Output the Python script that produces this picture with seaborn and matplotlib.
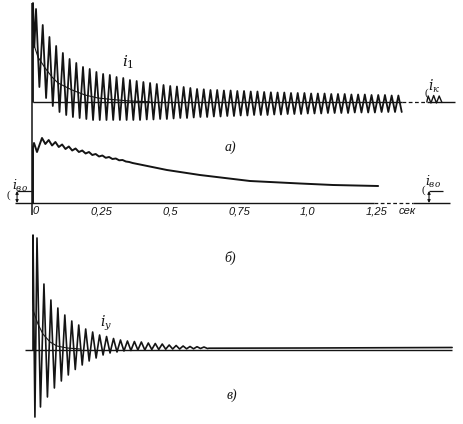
import matplotlib
matplotlib.use("Agg")
import matplotlib.pyplot as plt
import pandas as pd
import seaborn as sns

# time in seconds, currents in oscillogram units (zero line = 0)

# a) stator current i1
A_SPIKE = [9.9, 5.5]          # first peak at switching and the dip after it
A_FIRST_TOP_T = 0.011
A_PERIOD = 0.0244
A_TOPS = [9.3, 7.7, 6.5, 5.6, 4.9, 4.3, 3.9, 3.5, 3.3, 3.0,
          2.8, 2.7, 2.5, 2.4, 2.2, 2.1, 2.0, 1.9, 1.8, 1.7,
          1.6, 1.55, 1.5, 1.4, 1.3, 1.27, 1.2, 1.2, 1.15, 1.15,
          1.1, 1.1, 1.05, 1.05, 1.0, 0.97, 0.95, 0.95, 0.9, 0.9,
          0.9, 0.85, 0.85, 0.85, 0.8, 0.8, 0.8, 0.75, 0.75, 0.75,
          0.7, 0.7, 0.7, 0.65, 0.65]
A_TROUGHS = [1.5, 0.4, -0.4, -1.0, -1.3, -1.5, -1.6, -1.7, -1.8, -1.8,
             -1.8, -1.8, -1.8, -1.8, -1.8, -1.8, -1.75, -1.75, -1.7, -1.7,
             -1.65, -1.6, -1.6, -1.55, -1.5, -1.5, -1.45, -1.45, -1.4, -1.4,
             -1.35, -1.35, -1.3, -1.3, -1.3, -1.25, -1.25, -1.2, -1.2, -1.2,
             -1.15, -1.15, -1.15, -1.1, -1.1, -1.1, -1.1, -1.05, -1.05, -1.05,
             -1.05, -1.0, -1.0, -1.0, -1.0]
A_DC_T = [0, 0.018, 0.044, 0.069, 0.091, 0.142, 0.189, 0.236, 0.287, 0.353, 0.425]
A_DC_V = [6.0, 4.5, 3.4, 2.5, 1.9, 1.2, 0.7, 0.4, 0.25, 0.1, 0.02]
A_ZERO = [0.0, 1.342, 1.432, 1.535]   # solid / dashed / solid
IK_START_T = 1.432
IK_PERIOD = 0.02
IK_TOPS = [0.6, 0.65, 0.6]
IK_TROUGHS = [-0.1, -0.1, -0.05]

# b) field current
B_HEAD_T = [0, 0, 0.0036, 0.0145]
B_HEAD_V = [0, 5.6, 6.0, 5.1]
B_FIRST_TOP_T = 0.0327
B_TOPS = [6.5, 6.3, 6.1, 5.85, 5.65, 5.45, 5.25, 5.1, 4.9, 4.75, 4.6, 4.45, 4.3, 4.1]
B_TROUGHS = [5.9, 5.75, 5.6, 5.4, 5.25, 5.1, 4.95, 4.8, 4.65, 4.52, 4.4, 4.27, 4.15, 4.0]
B_TAIL_T = [0.389, 0.487, 0.607, 0.789, 0.971, 1.091, 1.255]
B_TAIL_V = [3.85, 3.3, 2.8, 2.2, 1.95, 1.8, 1.7]
B_ZERO = [-0.065, 1.24, 1.38, 1.515]
B_LEVEL = 1.2                     # i_в0
B_LEVEL_LEFT = [-0.058, 0.0]
B_LEVEL_RIGHT = [1.44, 1.49]
TICKS = [0, 0.25, 0.5, 0.75, 1.0, 1.25]
TICK_LABELS = ["0", "0,25", "0,5", "0,75", "1,0", "1,25"]

# c) damper current iy
C_SPIKE = [11.5, -6.7]
C_FIRST_TOP_T = 0.0145
C_PERIOD = 0.0253
C_TOPS = [11.2, 6.6, 5.0, 4.2, 3.5, 2.9, 2.5, 2.1, 1.8, 1.5,
          1.35, 1.15, 1.0, 0.9, 0.85, 0.8, 0.7, 0.65, 0.6, 0.5,
          0.45, 0.4, 0.35, 0.33, 0.3]
C_TROUGHS = [-5.7, -4.7, -3.8, -3.1, -2.5, -1.95, -1.5, -1.1, -0.8, -0.5,
             -0.3, -0.2, -0.1, -0.05, 0.0, 0.0, 0.05, 0.05, 0.08, 0.1,
             0.1, 0.12, 0.12, 0.15, 0.15]
C_DC_T = [0, 0.018, 0.036, 0.062, 0.087, 0.124, 0.171]
C_DC_V = [4.0, 2.6, 1.6, 0.8, 0.4, 0.2, 0.1]
C_TAIL_T = [0.64, 1.0, 1.524]
C_TAIL_V = [0.18, 0.2, 0.25]
C_ZERO = [-0.029, 1.524]


def zigzag(t0, period, tops, troughs):
    t, v = [], []
    for k, (hi, lo) in enumerate(zip(tops, troughs)):
        t += [t0 + k * period, t0 + (k + 0.5) * period]
        v += [hi, lo]
    return t, v


def trace(ax, t, v, lw=1.2, color="#141414"):
    df = pd.DataFrame({"t": t, "v": v})
    sns.lineplot(data=df, x="t", y="v", ax=ax, estimator=None, sort=False,
                 color=color, linewidth=lw)
    ax.set_xlabel("")
    ax.set_ylabel("")


sns.set_style("white")
plt.rcParams["font.family"] = ["Liberation Serif", "DejaVu Serif"]
plt.rcParams["mathtext.fontset"] = "dejavuserif"
ink = "#141414"
XLIM = (-0.12, 1.5636)

fig = plt.figure(figsize=(4.63, 4.24), dpi=100)
ax_a = fig.add_axes([0, 0.7052, 1, 0.2948])
ax_b = fig.add_axes([0, 0.4764, 1, 0.2288])
ax_c = fig.add_axes([0, 0.0, 1, 0.4764])
for ax, yl in [(ax_a, (-2.3, 10.2)), (ax_b, (-1.9, 7.8)), (ax_c, (-7.4, 12.8))]:
    ax.set_xlim(*XLIM)
    ax.set_ylim(*yl)
    ax.patch.set_alpha(0)
    for s in ax.spines.values():
        s.set_visible(False)
    ax.set_yticks([])

# ---- a)
t, v = zigzag(A_FIRST_TOP_T, A_PERIOD, A_TOPS, A_TROUGHS)
trace(ax_a, [0, 0, 0.005] + t, [0, A_SPIKE[0], A_SPIKE[1]] + v, lw=1.3)
trace(ax_a, A_DC_T, A_DC_V, lw=0.8)
t, v = zigzag(IK_START_T + IK_PERIOD * 0.25, IK_PERIOD, IK_TOPS, IK_TROUGHS)
trace(ax_a, [IK_START_T] + t, [0] + v, lw=1.0)
ax_a.hlines(0, A_ZERO[0], A_ZERO[1], color=ink, lw=1.0)
ax_a.plot(A_ZERO[1:3], [0, 0], color=ink, lw=0.9, ls=(0, (3, 2)))
ax_a.hlines(0, A_ZERO[2], A_ZERO[3], color=ink, lw=1.0)
ax_a.vlines(-0.002, -2.3, 9.9, color=ink, lw=1.1)
ax_a.set_xticks([])
ax_a.text(0.345, 4.0, r"$i_1$", fontsize=11, color=ink, ha="center", va="center")
ax_a.text(1.46, 1.6, r"$i_к$", fontsize=10, color=ink, ha="center", va="center")
ax_a.text(1.432, 0.9, "(", fontsize=8, color=ink, ha="center", va="center")

# ---- b)
t, v = zigzag(B_FIRST_TOP_T, A_PERIOD, B_TOPS, B_TROUGHS)
trace(ax_b, B_HEAD_T + t + B_TAIL_T, B_HEAD_V + v + B_TAIL_V, lw=1.4)
ax_b.hlines(0, B_ZERO[0], B_ZERO[1], color=ink, lw=1.0)
ax_b.plot(B_ZERO[1:3], [0, 0], color=ink, lw=0.9, ls=(0, (3, 2)))
ax_b.hlines(0, B_ZERO[2], B_ZERO[3], color=ink, lw=1.0)
ax_b.vlines(-0.002, -1.2, 7.8, color=ink, lw=1.1)
for seg in (B_LEVEL_LEFT, B_LEVEL_RIGHT):
    ax_b.hlines(B_LEVEL, seg[0], seg[1], color=ink, lw=0.9)
    ax_b.annotate("", xy=(seg[0], B_LEVEL), xytext=(seg[0], 0),
                  arrowprops=dict(arrowstyle="<|-|>", color=ink, lw=0.8,
                                  mutation_scale=4, shrinkA=0, shrinkB=0))
ax_b.text(-0.047, 1.75, r"$i_{во}$", fontsize=9, color=ink, ha="center", va="center")
ax_b.text(1.455, 2.15, r"$i_{во}$", fontsize=9, color=ink, ha="center", va="center")
ax_b.text(-0.088, 0.8, "(", fontsize=8, color=ink, ha="center", va="center")
ax_b.text(1.418, 1.3, "(", fontsize=8, color=ink, ha="center", va="center")
ax_b.spines["bottom"].set_position(("data", 0))
ax_b.set_xticks(TICKS)
ax_b.set_xticklabels(TICK_LABELS, fontstyle="italic", fontsize=8,
                     family="Liberation Sans", color=ink)
ax_b.get_xticklabels()[0].set_horizontalalignment("left")
ax_b.tick_params(axis="x", direction="in", length=2.5, width=0.8, pad=2.5, colors=ink)
ax_b.text(1.36, -0.8, "сек", fontstyle="italic", fontsize=8, family="Liberation Sans",
          color=ink, ha="center", va="center")

# ---- c)
t, v = zigzag(C_FIRST_TOP_T, C_PERIOD, C_TOPS, C_TROUGHS)
trace(ax_c, [0, 0, 0.007] + t + C_TAIL_T, [0, C_SPIKE[0], C_SPIKE[1]] + v + C_TAIL_V, lw=1.2)
trace(ax_c, C_DC_T, C_DC_V, lw=0.8)
ax_c.hlines(0, C_ZERO[0], C_ZERO[1], color=ink, lw=1.0)
ax_c.set_xticks([])
ax_c.text(0.265, 2.7, r"$i_у$", fontsize=10, color=ink, ha="center", va="center")

# panel captions
for txt, x, y in [("а)", 0.497, 0.653), ("б)", 0.497, 0.392), ("в)", 0.501, 0.068)]:
    fig.text(x, y, txt, fontsize=10, fontstyle="italic", color=ink,
             ha="center", va="center")

fig.savefig("out.png", dpi=100, facecolor="white")
